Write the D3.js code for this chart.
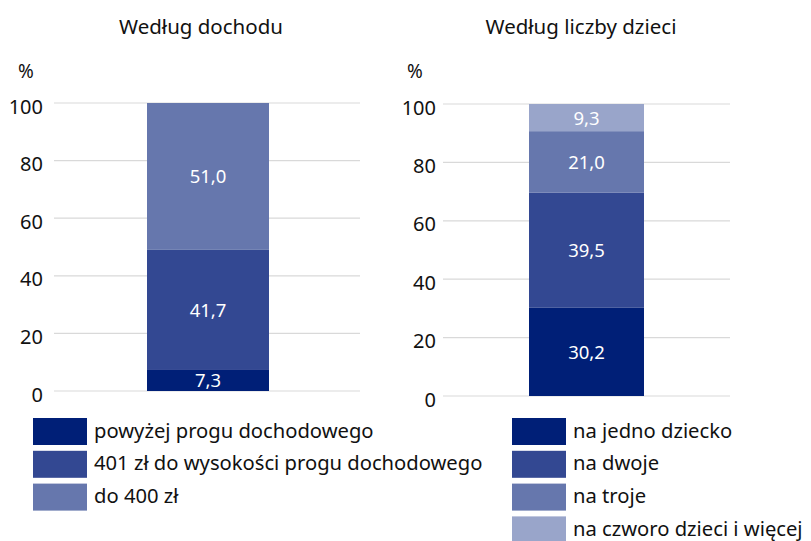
<!DOCTYPE html>
<html>
<head>
<meta charset="utf-8">
<script src="https://cdn.jsdelivr.net/npm/d3@7"></script>
<style>
  body { margin: 0; background: #fff; }
  svg text { font-family: "Noto Sans", "Open Sans", sans-serif; }
</style>
</head>
<body>
<div id="chart"></div>
<script>
// Data
const incomeCats = ["powyżej progu dochodowego", "401 zł do wysokości progu dochodowego", "do 400 zł"];
const incomeVals = [7.3, 41.7, 51.0];
const kidsCats = ["na jedno dziecko", "na dwoje", "na troje", "na czworo dzieci i więcej"];
const kidsVals = [30.2, 39.5, 21.0, 9.3];
const yTicks = [0, 20, 40, 60, 80, 100];
const colors = ["#001f77", "#334892", "#6677ad", "#99a5ca"];

const svg = d3.select("#chart").append("svg")
    .attr("width", 811)
    .attr("height", 541);

// one stacked column panel
function panel(opt) {
    var g = svg.append("g");
    var y = d3.scaleLinear().domain([0, 100]).range([opt.bottom, opt.top]);

    g.append("text")
        .attr("x", opt.titleX).attr("y", 34)
        .attr("text-anchor", "middle")
        .attr("font-size", "20.5px")
        .attr("fill", "#111")
        .text(opt.title);

    g.append("text")
        .attr("x", opt.pctX).attr("y", 78)
        .attr("font-size", "19px")
        .attr("fill", "#111")
        .text("%");

    // gridlines + tick labels
    g.selectAll(".grid").data(yTicks).enter().append("line")
        .attr("x1", opt.gridX0).attr("x2", opt.gridX1)
        .attr("y1", d => y(d)).attr("y2", d => y(d))
        .attr("stroke", "#d9d9d9").attr("stroke-width", 1.2);

    g.selectAll(".tick").data(yTicks).enter().append("text")
        .attr("x", opt.tickX)
        .attr("y", d => y(d) + 10.5)
        .attr("text-anchor", "end")
        .attr("font-size", "20px")
        .attr("fill", "#111")
        .text(d => d);

    // stacked segments
    var acc = 0;
    var segs = opt.vals.map(function (v, i) {
        var s = { v: v, y0: acc, y1: acc + v, c: colors[i] };
        acc += v;
        return s;
    });

    g.selectAll(".bar").data(segs).enter().append("rect")
        .attr("x", opt.barX0)
        .attr("width", opt.barX1 - opt.barX0)
        .attr("y", d => y(Math.min(d.y1, 100)))
        .attr("height", d => y(d.y0) - y(Math.min(d.y1, 100)))
        .attr("fill", d => d.c);

    g.selectAll(".val").data(segs).enter().append("text")
        .attr("x", (opt.barX0 + opt.barX1) / 2)
        .attr("y", d => (y(d.y0) + y(Math.min(d.y1, 100))) / 2 + 7)
        .attr("text-anchor", "middle")
        .attr("font-size", "18.5px")
        .attr("fill", "#fff")
        .text(d => d3.format(".1f")(d.v).replace(".", ","));

    // legend
    var leg = g.selectAll(".leg").data(opt.cats).enter().append("g")
        .attr("transform", (d, i) => "translate(" + opt.legX + "," + (418 + i * 32.8) + ")");
    leg.append("rect")
        .attr("width", 54).attr("height", 27)
        .attr("fill", (d, i) => colors[i]);
    leg.append("text")
        .attr("x", 61).attr("y", 19.5)
        .attr("font-size", "20.2px")
        .attr("fill", "#111")
        .text(d => d);
}

panel({
    title: "Według dochodu", titleX: 201, pctX: 18,
    top: 103, bottom: 391, gridX0: 54, gridX1: 360, tickX: 43,
    barX0: 147, barX1: 269, vals: incomeVals, cats: incomeCats, legX: 33
});

panel({
    title: "Według liczby dzieci", titleX: 581, pctX: 407,
    top: 104, bottom: 396, gridX0: 443, gridX1: 730, tickX: 436,
    barX0: 529, barX1: 644, vals: kidsVals, cats: kidsCats, legX: 512
});
</script>
</body>
</html>
